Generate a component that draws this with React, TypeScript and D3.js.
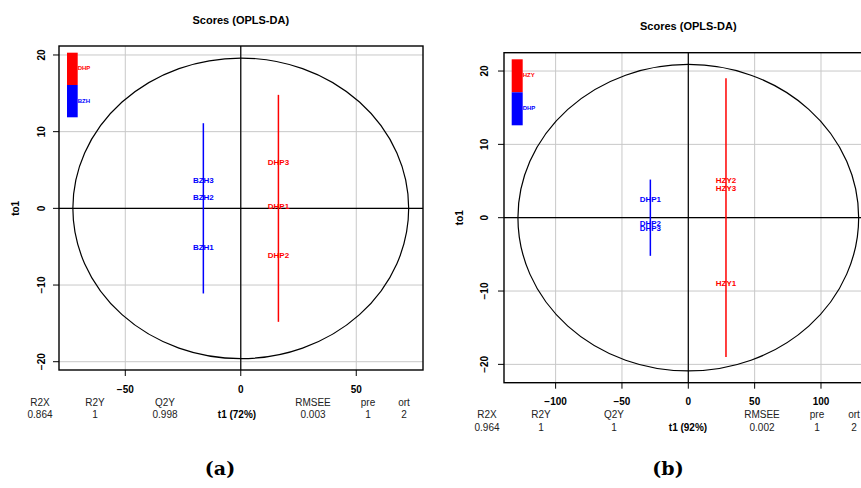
import * as d3 from "d3";
import React from "react";

// panel (a)
const groupsA = ["DHP", "BZH"];
const groupXA = [16.3, -16.2];
const groupSpanA = [14.8, 11.1];
const samplesA = ["DHP1", "DHP2", "DHP3", "BZH1", "BZH2", "BZH3"];
const sampleGroupA = [0, 0, 0, 1, 1, 1];
const sampleYA = [0.2, -6.2, 5.9, -5.1, 1.4, 3.6];
const ellipseA = [72.7, 19.6];
const xTicksA = [-50, 0, 50];
const yTicksA = [-20, -10, 0, 10, 20];
const statLabelsA = ["R2X", "R2Y", "Q2Y", "RMSEE", "pre", "ort"];
const statValuesA = ["0.864", "1", "0.998", "0.003", "1", "2"];
const axisTitleA = "t1 (72%)";

// panel (b)
const groupsB = ["HZY", "DHP"];
const groupXB = [28.4, -28.6];
const groupSpanB = [19.0, 5.2];
const samplesB = ["HZY1", "HZY2", "HZY3", "DHP1", "DHP2", "DHP3"];
const sampleGroupB = [0, 0, 0, 1, 1, 1];
const sampleYB = [-9.0, 5.0, 3.9, 2.4, -0.9, -1.5];
const ellipseB = [128.4, 20.9];
const xTicksB = [-100, -50, 0, 50, 100];
const yTicksB = [-20, -10, 0, 10, 20];
const statLabelsB = ["R2X", "R2Y", "Q2Y", "RMSEE", "pre", "ort"];
const statValuesB = ["0.964", "1", "1", "0.002", "1", "2"];
const axisTitleB = "t1 (92%)";

const colors = ["#ff0000", "#0000ff"];
const font = "Liberation Sans, Arial, sans-serif";

type PanelProps = {
  groups: string[];
  groupX: number[];
  groupSpan: number[];
  samples: string[];
  sampleGroup: number[];
  sampleY: number[];
  ellipse: number[];
  xTicks: number[];
  yTicks: number[];
  statLabels: string[];
  statValues: string[];
  axisTitle: string;
  box: { left: number; right: number; top: number; bottom: number };
  xDomain: [number, number];
  yDomain: [number, number];
  titleY: number;
  statX: number[];
  statY: number;
  tickLabelY: number;
  yLabelX: number;
  yTickLabelX: number;
  legend: { x: number; y: number; w: number; h: number };
  tag: string;
  tagX: number;
};

function Panel(p: PanelProps) {
  const { box } = p;
  const x = d3.scaleLinear().domain(p.xDomain).range([box.left, box.right]);
  const y = d3.scaleLinear().domain(p.yDomain).range([box.bottom, box.top]);
  const cx = (box.left + box.right) / 2;
  const midY = (box.top + box.bottom) / 2;
  return (
    <g fontFamily={font}>
      <text x={x(0)} y={p.titleY} textAnchor="middle" fontSize={11} fontWeight="bold" dominantBaseline="middle">
        Scores (OPLS-DA)
      </text>
      {/* grid */}
      {p.xTicks.map((t) => (
        <line key={"gx" + t} x1={x(t)} x2={x(t)} y1={box.top} y2={box.bottom} stroke="#c8c8c8" strokeWidth={1} />
      ))}
      {p.yTicks.map((t) => (
        <line key={"gy" + t} x1={box.left} x2={box.right} y1={y(t)} y2={y(t)} stroke="#c8c8c8" strokeWidth={1} />
      ))}
      {/* zero axes */}
      <line x1={x(0)} x2={x(0)} y1={box.top} y2={box.bottom} stroke="#000" strokeWidth={1.2} />
      <line x1={box.left} x2={box.right} y1={y(0)} y2={y(0)} stroke="#000" strokeWidth={1.2} />
      <ellipse
        cx={x(0)}
        cy={y(0)}
        rx={x(p.ellipse[0]) - x(0)}
        ry={y(0) - y(p.ellipse[1])}
        fill="none"
        stroke="#000"
        strokeWidth={1.2}
      />
      {/* group segments */}
      {p.groups.map((g, i) => (
        <line
          key={g}
          x1={x(p.groupX[i])}
          x2={x(p.groupX[i])}
          y1={y(p.groupSpan[i])}
          y2={y(-p.groupSpan[i])}
          stroke={colors[i]}
          strokeWidth={1.5}
        />
      ))}
      {p.samples.map((s, i) => (
        <text
          key={s}
          x={x(p.groupX[p.sampleGroup[i]])}
          y={y(p.sampleY[i])}
          textAnchor="middle"
          dominantBaseline="middle"
          fontSize={8}
          fontWeight="bold"
          fill={colors[p.sampleGroup[i]]}
        >
          {s}
        </text>
      ))}
      {/* legend */}
      {p.groups.map((g, i) => (
        <g key={"lg" + g}>
          <rect x={p.legend.x} y={p.legend.y + i * p.legend.h} width={p.legend.w} height={p.legend.h} fill={colors[i]} />
          <text
            x={p.legend.x + p.legend.w}
            y={p.legend.y + i * p.legend.h + p.legend.h / 2}
            fontSize={6}
            fontWeight="bold"
            fill={colors[i]}
            dominantBaseline="middle"
          >
            {g}
          </text>
        </g>
      ))}
      {/* box */}
      <rect x={box.left} y={box.top} width={box.right - box.left} height={box.bottom - box.top} fill="none" stroke="#000" strokeWidth={1.4} />
      {/* x ticks */}
      {p.xTicks.map((t) => (
        <g key={"tx" + t}>
          <line x1={x(t)} x2={x(t)} y1={box.bottom} y2={box.bottom + 6} stroke="#000" strokeWidth={1} />
          <text x={x(t)} y={p.tickLabelY} textAnchor="middle" dominantBaseline="middle" fontSize={10} fontWeight="bold">
            {t < 0 ? "\u2212" + Math.abs(t) : t}
          </text>
        </g>
      ))}
      {/* y ticks */}
      {p.yTicks.map((t) => (
        <g key={"ty" + t}>
          <line x1={box.left - 6} x2={box.left} y1={y(t)} y2={y(t)} stroke="#000" strokeWidth={1} />
          <text
            transform={`translate(${p.yTickLabelX},${y(t)}) rotate(-90)`}
            textAnchor="middle"
            dominantBaseline="middle"
            fontSize={10}
            fontWeight="bold"
          >
            {t < 0 ? "\u2212" + Math.abs(t) : t}
          </text>
        </g>
      ))}
      <text
        transform={`translate(${p.yLabelX},${y(0)}) rotate(-90)`}
        textAnchor="middle"
        dominantBaseline="middle"
        fontSize={10}
        fontWeight="bold"
      >
        to1
      </text>
      {/* stats */}
      {p.statLabels.map((s, i) => {
        const sx = p.statX[i < 3 ? i : i + 1];
        return (
          <g key={"st" + s}>
            <text x={sx} y={p.statY} textAnchor="middle" dominantBaseline="middle" fontSize={10} fill="#222">
              {s}
            </text>
            <text x={sx} y={p.statY + 12.5} textAnchor="middle" dominantBaseline="middle" fontSize={10} fill="#222">
              {p.statValues[i]}
            </text>
          </g>
        );
      })}
      <text x={p.statX[3]} y={p.statY + 12.5} textAnchor="middle" dominantBaseline="middle" fontSize={10} fontWeight="bold">
        {p.axisTitle}
      </text>
      <text
        x={p.tagX}
        y={470}
        textAnchor="middle"
        dominantBaseline="middle"
        fontSize={19}
        fontFamily="DejaVu Serif, Liberation Serif, serif"
        fontWeight="bold"
      >
        (<tspan fontWeight="bold">{p.tag}</tspan>)
      </text>
    </g>
  );
}

export default function App() {
  return (
    <svg width={861} height={488} style={{ position: "absolute", left: 0, top: 0, background: "#fff" }}>
      <rect width={861} height={488} fill="#fff" />
      <Panel
        groups={groupsA}
        groupX={groupXA}
        groupSpan={groupSpanA}
        samples={samplesA}
        sampleGroup={sampleGroupA}
        sampleY={sampleYA}
        ellipse={ellipseA}
        xTicks={xTicksA}
        yTicks={yTicksA}
        statLabels={statLabelsA}
        statValues={statValuesA}
        axisTitle={axisTitleA}
        box={{ left: 59, right: 423, top: 46, bottom: 370 }}
        xDomain={[-78.7, 78.9]}
        yDomain={[-21.08, 21.17]}
        titleY={21}
        statX={[40, 95, 165, 237, 313, 368, 404]}
        statY={403}
        tickLabelY={390}
        yLabelX={16}
        yTickLabelX={42}
        legend={{ x: 67, y: 52.7, w: 10.7, h: 32.3 }}
        tag="a"
        tagX={220}
      />
      <Panel
        groups={groupsB}
        groupX={groupXB}
        groupSpan={groupSpanB}
        samples={samplesB}
        sampleGroup={sampleGroupB}
        sampleY={sampleYB}
        ellipse={ellipseB}
        xTicks={xTicksB}
        yTicks={yTicksB}
        statLabels={statLabelsB}
        statValues={statValuesB}
        axisTitle={axisTitleB}
        box={{ left: 504, right: 872.6, top: 52.7, bottom: 382.7 }}
        xDomain={[-138.9, 138.9]}
        yDomain={[-22.5, 22.5]}
        titleY={27.3}
        statX={[487, 541, 614, 688, 762, 817, 854]}
        statY={415.7}
        tickLabelY={402.7}
        yLabelX={460}
        yTickLabelX={485}
        legend={{ x: 511.7, y: 59.3, w: 11, h: 33 }}
        tag="b"
        tagX={668}
      />
    </svg>
  );
}
